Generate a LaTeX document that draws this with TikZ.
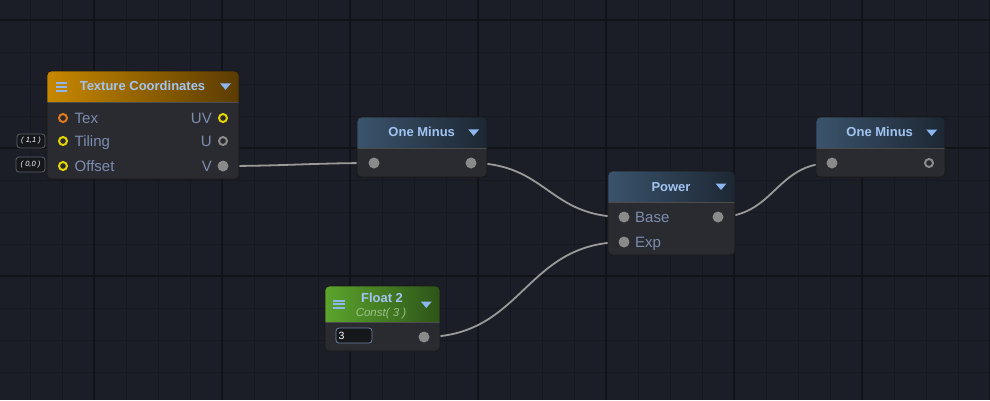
\documentclass[tikz,border=0pt]{standalone}
\usepackage{fontspec}
\setmainfont{Liberation Sans}
\usetikzlibrary{fit,calc}
\definecolor{bgcol}{HTML}{1B1E27}
\definecolor{gridminor}{HTML}{15181F}
\definecolor{gridmajor}{HTML}{111318}
\definecolor{bodycol}{HTML}{2A2B30}
\definecolor{titleblue}{HTML}{A2C4F2}
\definecolor{iconblue}{HTML}{8CB6EE}
\definecolor{lblcol}{HTML}{7C8DB0}
\definecolor{portgrey}{HTML}{8A8A8A}
\definecolor{portyellow}{HTML}{E6D400}
\definecolor{portorange}{HTML}{E27A1C}
\definecolor{wirecol}{HTML}{9A9A9A}
\definecolor{orangeL}{HTML}{C88800}
\definecolor{orangeR}{HTML}{5A3B02}
\definecolor{blueL}{HTML}{3A536C}
\definecolor{blueR}{HTML}{1D2733}
\definecolor{greenL}{HTML}{5CA42C}
\definecolor{greenR}{HTML}{2D5419}
\definecolor{constgreen}{HTML}{9CC48C}
\definecolor{valfill}{HTML}{15171B}
\definecolor{valborder}{HTML}{595E6A}
\definecolor{valborderblue}{HTML}{6C82A8}
\pgfdeclarelayer{gridlayer}
\pgfdeclarelayer{wirelayer}
\pgfsetlayers{gridlayer,wirelayer,main}
\tikzset{
  boxborder/.style={draw=black!90,line width=0.9pt},
  sepline/.style={draw=black!70,line width=0.8pt},
  hdr/.style={font=\fontsize{13}{15}\selectfont\bfseries,text=titleblue,inner sep=0pt,anchor=base},
  lbl/.style={font=\fontsize{15}{17}\selectfont,text=lblcol,inner sep=0pt},
  portdot/.style={circle,fill=portgrey,minimum size=11pt,inner sep=0pt,outer sep=0pt},
  portring/.style={circle,draw=#1,line width=2pt,fill=bodycol,minimum size=8pt,inner sep=0pt,outer sep=0pt},
  wire/.style={draw=wirecol,line width=1.8pt},
  hamb/.style={draw=iconblue,line width=2pt},
  tri/.style={fill=iconblue},
  valbox/.style={draw=valborder,fill=valfill,rounded corners=3pt,line width=0.8pt,inner sep=0pt,
    font=\fontsize{7.5}{8}\selectfont\itshape,text=white!80},
}
\newcommand{\asebox}[8]{%
  \fill[bodycol,rounded corners=4pt] (#2,#3) rectangle (#4,#5);
  \begin{scope}
    \clip[rounded corners=4pt] (#2,#3) rectangle (#4,#5);
    \shade[left color=#7,right color=#8] (#2,#3) rectangle (#4,#6);
    \draw[sepline] (#2,#6) -- (#4,#6);
  \end{scope}
  \draw[boxborder,rounded corners=4pt] (#2,#3) rectangle (#4,#5);
  \node[fit={(#2,#3) (#4,#5)},inner sep=0pt,outer sep=0pt] (#1) {};
}
\newcommand{\asetri}[2]{%
  \fill[tri] (#1-5.5,#2) -- (#1+5.5,#2) -- (#1,#2+6.5) -- cycle;
}
\begin{document}
\begin{tikzpicture}[x=1pt,y=-1pt]
\useasboundingbox (0,0) rectangle (990,400);
% ---------- grid ----------
\begin{pgfonlayer}{gridlayer}
  \fill[bgcol] (0,0) rectangle (990,400);
  \foreach \gx in {-2,30,...,990} {\draw[gridminor,line width=1pt] (\gx,0) -- (\gx,400);}
  \foreach \gy in {20,52,...,400} {\draw[gridminor,line width=1pt] (0,\gy) -- (990,\gy);}
  \foreach \gx in {94,222,...,990} {\draw[gridmajor,line width=2.5pt] (\gx,0) -- (\gx,400);}
  \foreach \gy in {20,148,276} {\draw[gridmajor,line width=2.5pt] (0,\gy) -- (990,\gy);}
\end{pgfonlayer}

% ---------- Texture Coordinates ----------
\asebox{tc}{47}{71}{239}{179}{102}{orangeL}{orangeR}
\draw[hamb] (55.5,82.5) -- (67,82.5) (55.5,86.5) -- (67,86.5) (55.5,90.5) -- (67,90.5);
\node[hdr] (tc-title) at (142.5,90.7) {Texture Coordinates};
\asetri{225.5}{83.3}
\node[portring=portorange] (tc-tex) at (63,118) {};
\node[portring=portyellow] (tc-tiling) at (63,141) {};
\node[portring=portyellow] (tc-offset) at (63,166) {};
\node[portring=portyellow] (tc-uv) at (223,118) {};
\node[portring=portgrey] (tc-u) at (223,141) {};
\node[portdot] (tc-v) at (223,166) {};
\node[lbl,anchor=base west] (tc-lt) at (74.5,123.3) {Tex};
\node[lbl,anchor=base west] (tc-lti) at (74.5,146.3) {Tiling};
\node[lbl,anchor=base west] (tc-lo) at (74.5,171.3) {Offset};
\node[lbl,anchor=base east] (tc-luv) at (212,123.3) {UV};
\node[lbl,anchor=base east] (tc-lu) at (212,146.3) {U};
\node[lbl,anchor=base east] (tc-lv) at (212,171.3) {V};
\node[valbox,minimum width=28pt,minimum height=14pt] (tc-tilingval) at (31,141) {( 1,1 )};
\node[valbox,minimum width=29pt,minimum height=15pt] (tc-offsetval) at (30.5,164.5) {( 0,0 )};

% ---------- One Minus 1 ----------
\asebox{om1}{357}{117}{487}{177}{148}{blueL}{blueR}
\node[hdr] (om1-title) at (421.7,136.7) {One Minus};
\asetri{473.7}{129.3}
\node[portdot] (om1-in) at (374,163) {};
\node[portdot] (om1-out) at (471,163) {};

% ---------- Power ----------
\asebox{pw}{608}{171}{735}{255}{202}{blueL}{blueR}
\node[hdr] (pw-title) at (671,191) {Power};
\asetri{721}{183.5}
\node[portdot] (pw-base) at (624,217) {};
\node[portdot] (pw-exp) at (624,242) {};
\node[portdot] (pw-out) at (718,217) {};
\node[lbl,anchor=base west] (pw-lb) at (635,222.3) {Base};
\node[lbl,anchor=base west] (pw-le) at (635,247.3) {Exp};

% ---------- One Minus 2 ----------
\asebox{om2}{816}{117}{945}{177}{148}{blueL}{blueR}
\node[hdr] (om2-title) at (879.7,136.7) {One Minus};
\asetri{931.7}{129.5}
\node[portdot] (om2-in) at (832,163) {};
\node[portring=portgrey] (om2-out) at (929,163) {};

% ---------- Float 2 ----------
\asebox{fl}{325}{286}{440}{351}{322}{greenL}{greenR}
\draw[hamb] (333,300.7) -- (345,300.7) (333,304.4) -- (345,304.4) (333,308.1) -- (345,308.1);
\node[hdr] (fl-title) at (382,302.3) {Float 2};
\node[font=\fontsize{11.5}{13}\selectfont\itshape,text=constgreen,inner sep=0pt,anchor=base] (fl-const) at (381,316.5) {Const( 3 )};
\asetri{426.3}{301.5}
\node[valbox,draw=valborderblue,minimum width=36pt,minimum height=15pt] (fl-val) at (354,335.5) {};
\node[font=\fontsize{10.5}{12}\selectfont,text=white!90,inner sep=0pt,anchor=base west] (fl-valtext) at (338.3,339.3) {3};
\node[portdot] (fl-out) at (424,337) {};

% ---------- wires ----------
\begin{pgfonlayer}{wirelayer}
  \draw[wire] (tc-v.center) .. controls ($(tc-v.center)+(60,0)$) and ($(om1-in.center)+(-60,0)$) .. (om1-in.center);
  \draw[wire] (om1-out.center) .. controls ($(om1-out.center)+(76,0)$) and ($(pw-base.center)+(-76,0)$) .. (pw-base.center);
  \draw[wire] (pw-out.center) .. controls ($(pw-out.center)+(57,0)$) and ($(om2-in.center)+(-57,0)$) .. (om2-in.center);
  \draw[wire] (fl-out.center) .. controls ($(fl-out.center)+(100,0)$) and ($(pw-exp.center)+(-100,0)$) .. (pw-exp.center);
\end{pgfonlayer}
\end{tikzpicture}
\end{document}
